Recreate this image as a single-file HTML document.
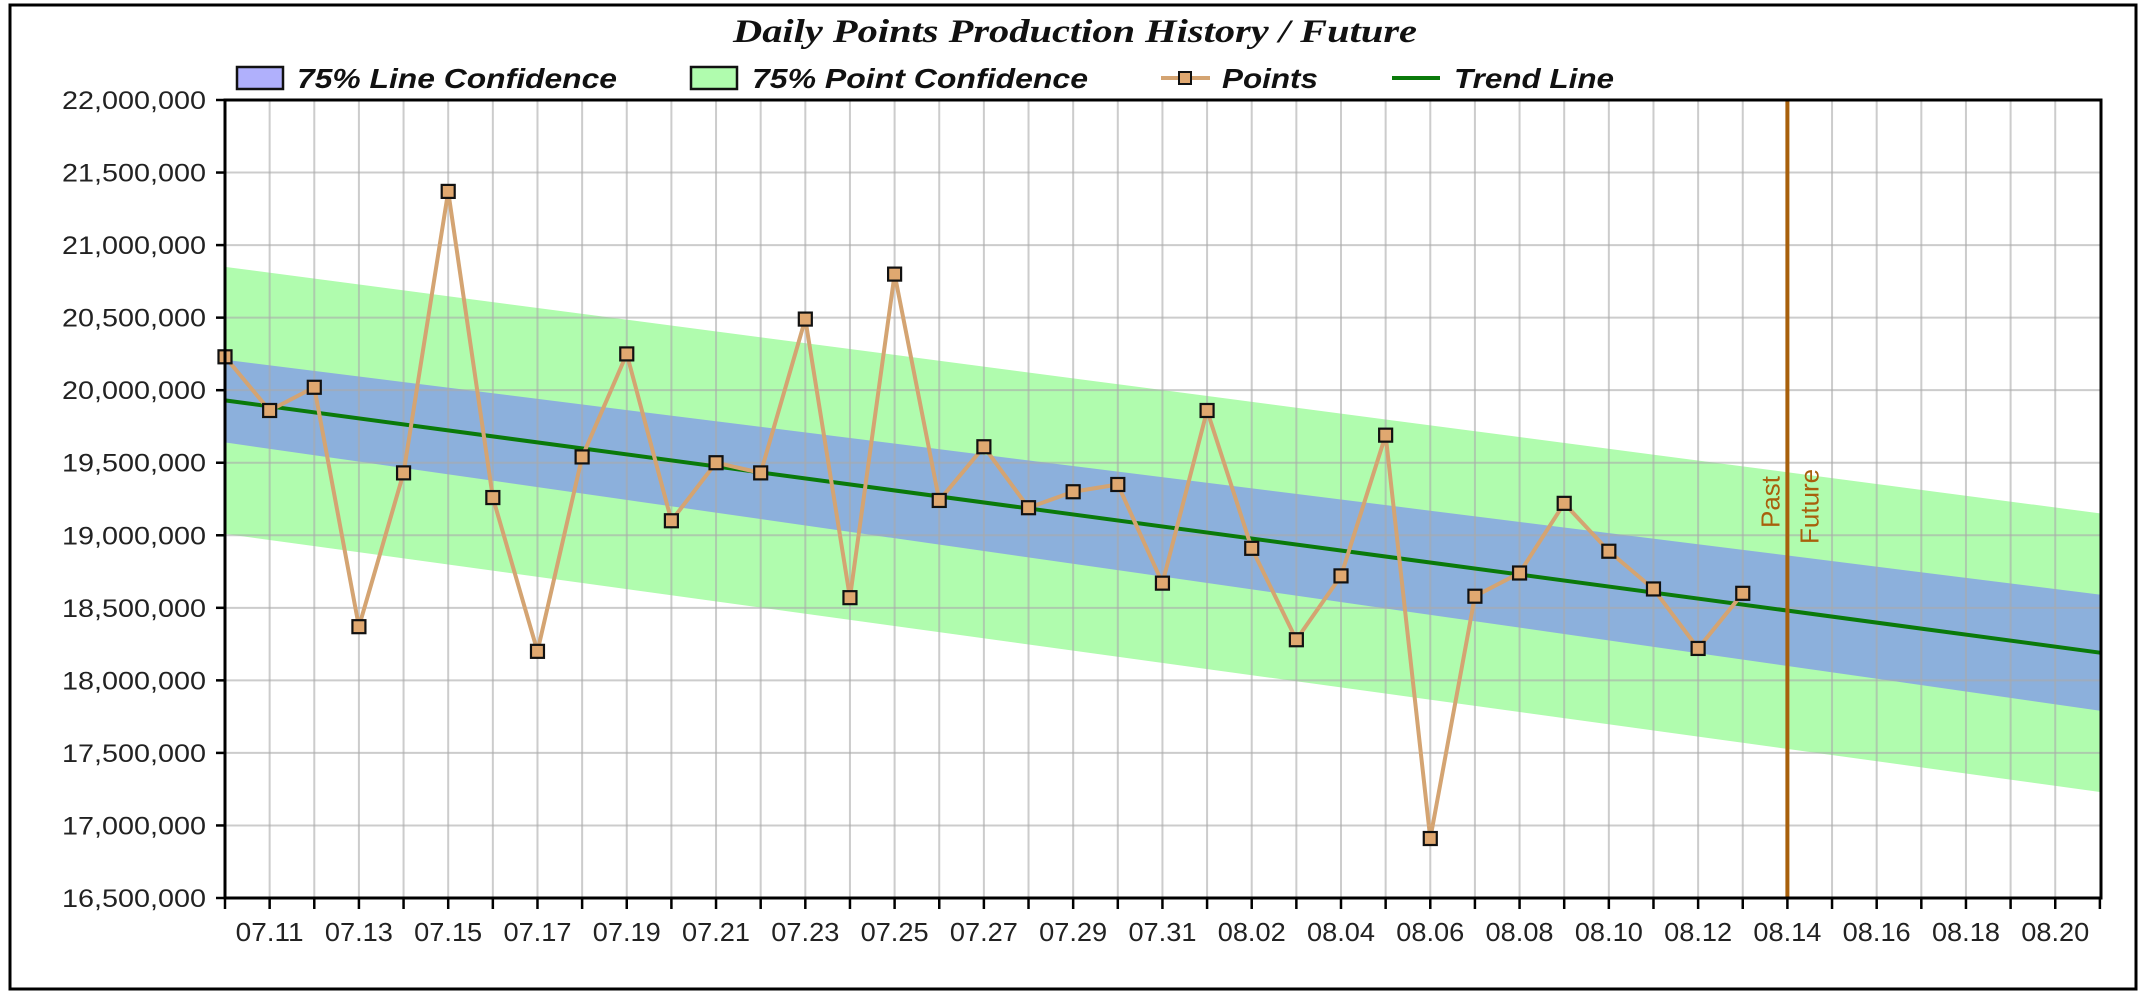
<!DOCTYPE html>
<html><head><meta charset="utf-8"><style>
html,body{margin:0;padding:0;background:#fff;}
svg{display:block;}
</style></head><body>
<svg id="c" width="2140" height="994" xmlns="http://www.w3.org/2000/svg"></svg>
<script>
const L=225,R=2101,T=100,B=898,D=44.64;
const X=i=>L+i*D, Y=v=>T+(22-v)/5.5*(B-T);
let s='';
s+='<rect x="0" y="0" width="2140" height="994" fill="#fff"/>';
s+='<rect x="10" y="5" width="2126" height="984" fill="none" stroke="#000" stroke-width="3"/>';
const band=(a0,a1,b0,b1,c)=>`<polygon points="${L},${Y(a0)} ${R},${Y(a1)} ${R},${Y(b1)} ${L},${Y(b0)}" fill="${c}"/>`;
s+=band(20.85,19.15,19.01,17.23,'#b0fcae');
s+=band(20.21,18.59,19.64,17.79,'#8cb0dc');
for(let i=1;i<42;i++){s+=`<line x1="${X(i)}" y1="${T}" x2="${X(i)}" y2="${B}" stroke="#aaa" stroke-opacity="0.6" stroke-width="2"/>`;}
for(let k=1;k<11;k++){const y=T+k*(B-T)/11;s+=`<line x1="${L}" y1="${y}" x2="${R}" y2="${y}" stroke="#aaa" stroke-opacity="0.6" stroke-width="2"/>`;}
s+=`<line x1="${L}" y1="${Y(19.93)}" x2="${R}" y2="${Y(18.19)}" stroke="#0a7a0a" stroke-width="4"/>`;
const v=[20.23,19.86,20.02,18.37,19.43,21.37,19.26,18.20,19.54,20.25,19.10,19.50,19.43,20.49,18.57,20.80,19.24,19.61,19.19,19.30,19.35,18.67,19.86,18.91,18.28,18.72,19.69,16.91,18.58,18.74,19.22,18.89,18.63,18.22,18.60];
s+=`<polyline fill="none" stroke="#d4a472" stroke-width="4" points="${v.map((a,i)=>X(i)+','+Y(a)).join(' ')}"/>`;
v.forEach((a,i)=>{s+=`<rect x="${X(i)-6.5}" y="${Y(a)-6.5}" width="13" height="13" fill="#e0a870" stroke="#111" stroke-width="2.2"/>`;});
const px=X(35);
s+=`<line x1="${px}" y1="${T}" x2="${px}" y2="${B}" stroke="#a8600c" stroke-width="4"/>`;
s+=`<text transform="translate(${px-8},528) rotate(-90)" font-family="Liberation Sans,sans-serif" font-size="26" fill="#a8600c">Past</text>`;
s+=`<text transform="translate(${px+31},544) rotate(-90)" font-family="Liberation Sans,sans-serif" font-size="26" fill="#a8600c">Future</text>`;
s+=`<rect x="${L}" y="${T}" width="${R-L}" height="${B-T}" fill="none" stroke="#000" stroke-width="3"/>`;
for(let k=0;k<=11;k++){const y=T+k*(B-T)/11;const val=(22-k*0.5)*1e6;
s+=`<line x1="${L-9}" y1="${y}" x2="${L}" y2="${y}" stroke="#000" stroke-width="2.5"/>`;
s+=`<text x="206" y="${y+9}" text-anchor="end" font-family="Liberation Sans,sans-serif" font-size="25" fill="#222" textLength="144" lengthAdjust="spacingAndGlyphs">${val.toLocaleString('en-US')}</text>`;}
for(let i=0;i<=42;i++){const x=X(i);s+=`<line x1="${x}" y1="${B}" x2="${x}" y2="${B+11}" stroke="#000" stroke-width="2.5"/>`;
if(i%2==1){let d=10+i,m='07';if(d>31){d-=31;m='08';}
s+=`<text x="${x}" y="941" text-anchor="middle" font-family="Liberation Sans,sans-serif" font-size="26" fill="#222" textLength="68" lengthAdjust="spacingAndGlyphs">${m}.${String(d).padStart(2,'0')}</text>`;}}
s+=`<text x="1075" y="42" text-anchor="middle" font-family="Liberation Serif,serif" font-weight="bold" font-style="italic" font-size="33" fill="#111" textLength="684" lengthAdjust="spacingAndGlyphs">Daily Points Production History / Future</text>`;
const lf='font-family="Liberation Sans,sans-serif" font-weight="bold" font-style="italic" font-size="28" fill="#111"';
s+=`<rect x="237" y="67" width="46" height="22" fill="#b0b0fc" stroke="#111" stroke-width="2.5"/>`;
s+=`<text x="297" y="88" ${lf} textLength="320" lengthAdjust="spacingAndGlyphs">75% Line Confidence</text>`;
s+=`<rect x="691" y="67" width="46" height="22" fill="#b0fcae" stroke="#111" stroke-width="2.5"/>`;
s+=`<text x="752" y="88" ${lf} textLength="336" lengthAdjust="spacingAndGlyphs">75% Point Confidence</text>`;
s+=`<line x1="1161" y1="78" x2="1210" y2="78" stroke="#d4a472" stroke-width="4"/><rect x="1179" y="72" width="12" height="12" fill="#e0a870" stroke="#111" stroke-width="2"/>`;
s+=`<text x="1222" y="88" ${lf} textLength="96" lengthAdjust="spacingAndGlyphs">Points</text>`;
s+=`<line x1="1392" y1="78" x2="1440" y2="78" stroke="#0a7a0a" stroke-width="4"/>`;
s+=`<text x="1454" y="88" ${lf} textLength="160" lengthAdjust="spacingAndGlyphs">Trend Line</text>`;
document.getElementById('c').innerHTML=s;
</script>
</body></html>
